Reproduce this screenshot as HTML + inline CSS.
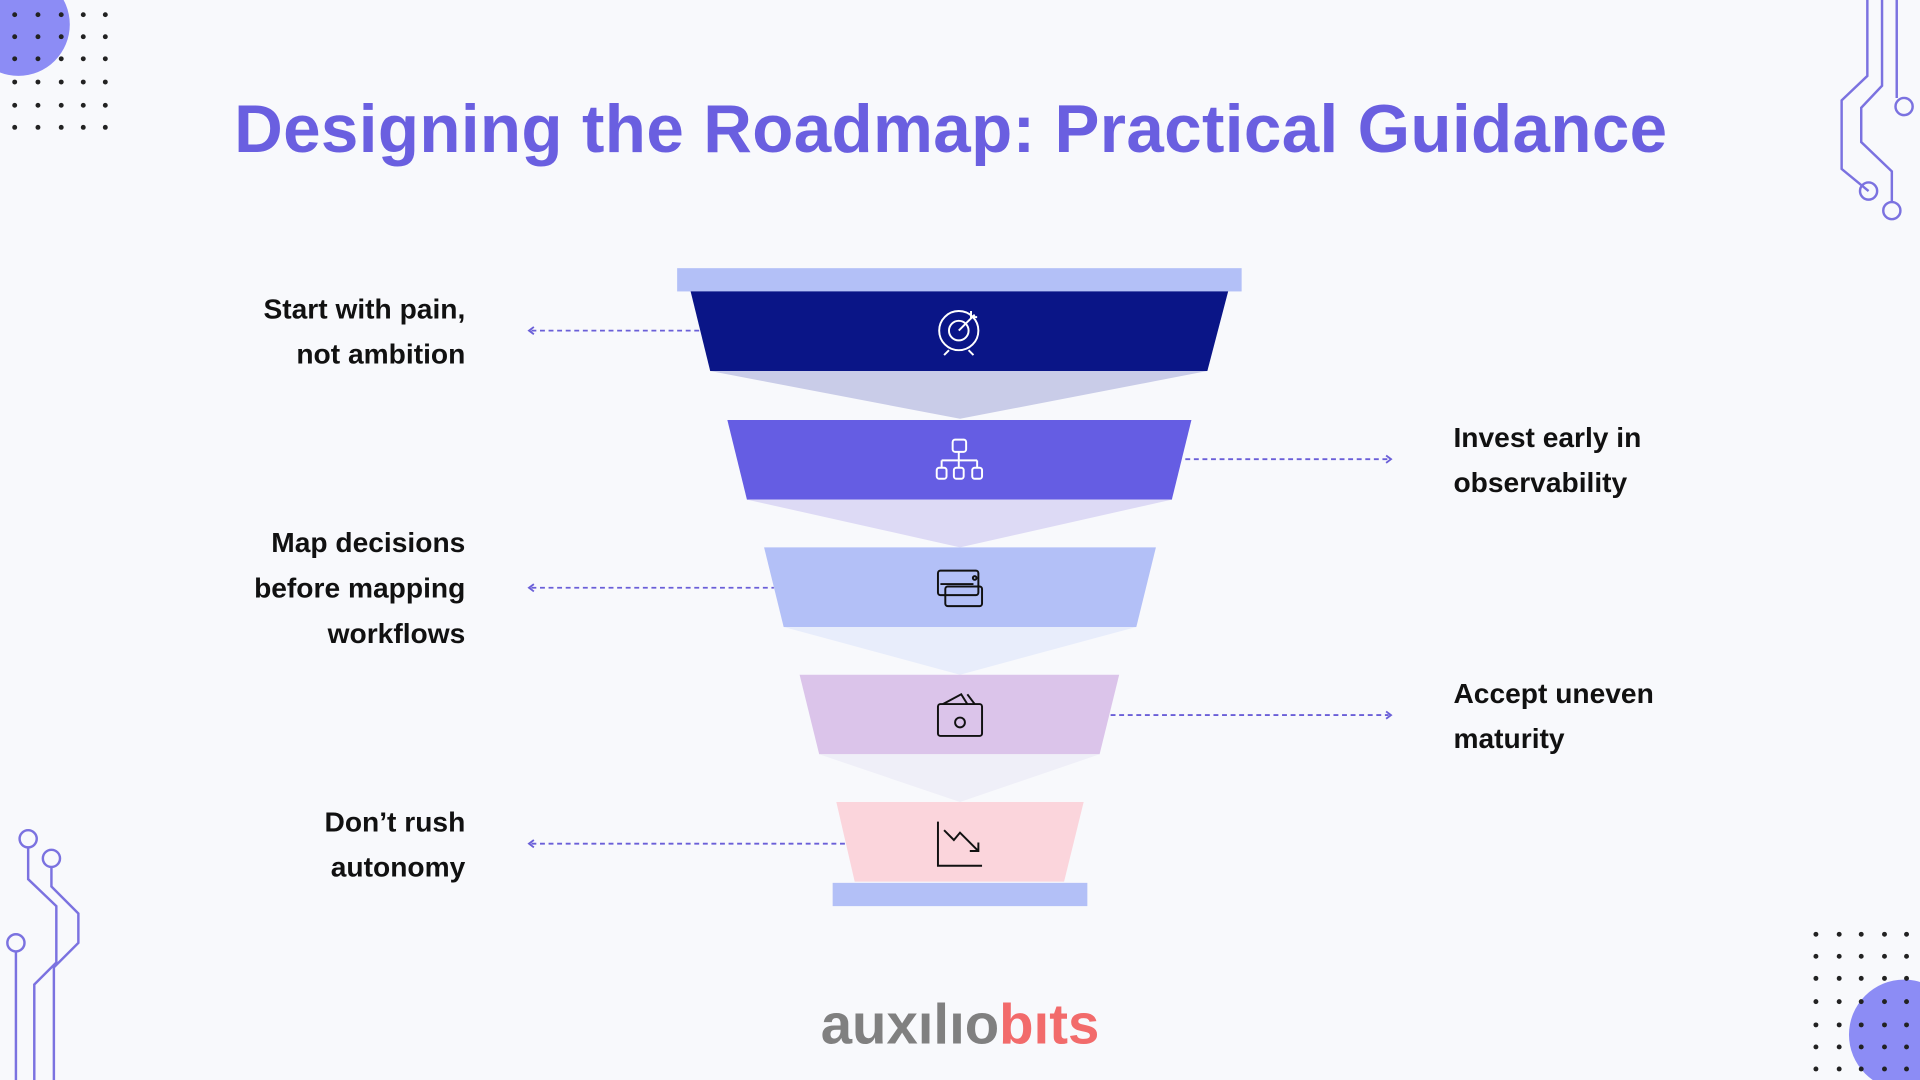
<!DOCTYPE html>
<html><head><meta charset="utf-8"><style>
html,body{margin:0;padding:0;background:#f8f9fc;overflow:hidden}
#w{width:1568px;height:882px;position:relative;transform:scale(1.22449);transform-origin:0 0;font-family:"Liberation Sans",sans-serif}
.t{position:absolute;font-weight:bold;font-size:23px;line-height:37px;color:#111}
.l{right:1188px;text-align:right}
.r{left:1187px}
</style></head><body><div id="w">
<svg width="1568" height="882" style="position:absolute;left:0;top:0">
<circle cx="15" cy="20" r="42" fill="#8c8cf5"/>
<circle cx="1555" cy="845" r="45" fill="#8c8cf5"/>
<g fill="#222">
<g id="d1">
<circle cx="12" cy="12" r="2"/><circle cx="31" cy="12" r="2"/><circle cx="50" cy="12" r="2"/><circle cx="68" cy="12" r="2"/><circle cx="86" cy="12" r="2"/>
</g>
<use href="#d1" y="18"/><use href="#d1" y="36"/><use href="#d1" y="55"/><use href="#d1" y="74"/><use href="#d1" y="92"/>
<g id="d2">
<circle cx="1483" cy="763" r="2"/><circle cx="1502" cy="763" r="2"/><circle cx="1520" cy="763" r="2"/><circle cx="1539" cy="763" r="2"/><circle cx="1557" cy="763" r="2"/>
</g>
<use href="#d2" y="18"/><use href="#d2" y="36"/><use href="#d2" y="55"/><use href="#d2" y="74"/><use href="#d2" y="92"/><use href="#d2" y="110"/>
</g>
<g fill="none" stroke="#7b72e0" stroke-width="2">
<path d="M1525 0 V62 L1504 82 V138 L1526 156"/><circle cx="1526" cy="156" r="7"/>
<path d="M1537 0 V70 L1520 88 V116 L1545 140 V165"/><circle cx="1545" cy="172" r="7"/>
<path d="M1549 0 V80"/><circle cx="1555" cy="87" r="7"/>
<path d="M23 692 V718 L46 740 V786 L28 804 V882"/><circle cx="23" cy="685" r="7"/>
<path d="M42 708 V724 L64 746 V770 L44 790 V882"/><circle cx="42" cy="701" r="7"/>
<path d="M13 777 V882"/><circle cx="13" cy="770" r="7"/>
</g>
<rect x="553" y="219" width="461" height="19" fill="#b3c0f7"/>
<polygon points="564,238 1003,238 986,303 580,303" fill="#0a1587"/>
<polygon points="580,303 986,303 784,342" fill="#c9cce8"/>
<polygon points="594,343 973,343 957,408 610,408" fill="#655de3"/>
<polygon points="610,408 957,408 784,447" fill="#dddaf5"/>
<polygon points="624,447 944,447 928,512 640,512" fill="#b3c0f7"/>
<polygon points="640,512 928,512 784,551" fill="#e8edfb"/>
<polygon points="653,551 914,551 898,616 669,616" fill="#dbc4ea"/>
<polygon points="669,616 898,616 784,655" fill="#efeff8"/>
<polygon points="683,655 885,655 869,720 698,720" fill="#fbd5dc"/>
<rect x="680" y="721" width="208" height="19" fill="#b3c0f7"/>
<g stroke="#6a5fd8" stroke-width="1.5" stroke-dasharray="4 3" fill="none">
<path d="M434 270 H572"/><path d="M434 480 H632"/><path d="M434 689 H690"/>
<path d="M968 375 H1134"/><path d="M907 584 H1134"/>
</g>
<g stroke="#6a5fd8" stroke-width="1.5" fill="none">
<path d="M436 267 L432 270 L436 273"/><path d="M436 477 L432 480 L436 483"/><path d="M436 686 L432 689 L436 692"/>
<path d="M1132 372 L1136 375 L1132 378"/><path d="M1132 581 L1136 584 L1132 587"/>
</g>
<g fill="none" stroke="#fff" stroke-width="1.6">
<circle cx="783" cy="270" r="16"/><circle cx="783" cy="270" r="8"/><path d="M783 270 L796 257 M793 254 V259 H798 M775 286 L771 290 M791 286 L795 290"/>
<rect x="778" y="359" width="11" height="10" rx="2"/><path d="M783 369 V376 M769 376 H798 M769 376 V382 M783 376 V382 M798 376 V382"/>
<rect x="765" y="382" width="8" height="9" rx="2"/><rect x="779" y="382" width="8" height="9" rx="2"/><rect x="794" y="382" width="8" height="9" rx="2"/>
</g>
<g fill="none" stroke="#111" stroke-width="1.6">
<rect x="766" y="466" width="33" height="20" rx="2"/><path d="M768 477 H795"/><rect x="772" y="479" width="30" height="16" rx="2"/><circle cx="796" cy="472" r="1.5"/>
<rect x="766" y="575" width="36" height="26" rx="2"/><circle cx="784" cy="590" r="4"/><path d="M770 575 L785 567 L790 575 M790 567 L796 575"/>
<path d="M766 671 V707 H802 M771 678 L779 686 L784 680 L799 695 M792 695 H799 V688"/>
</g>
</svg>
<div style="position:absolute;left:0;width:1553px;top:73px;text-align:center;font-size:55px;font-weight:bold;color:#6a5fe0;letter-spacing:0.3px">Designing the Roadmap: Practical Guidance</div>
<div class="t l" style="top:234px">Start with pain,<br>not ambition</div>
<div class="t l" style="top:425px">Map decisions<br>before mapping<br>workflows</div>
<div class="t l" style="top:653px">Don’t rush<br>autonomy</div>
<div class="t r" style="top:339px">Invest early in<br>observability</div>
<div class="t r" style="top:548px">Accept uneven<br>maturity</div>
<div style="position:absolute;left:0;width:1568px;top:808px;text-align:center;font-size:46px;font-weight:bold;line-height:56px"><span style="color:#808080">auxılıo</span><span style="color:#f26b6b">bıts</span></div>
</div></body></html>
